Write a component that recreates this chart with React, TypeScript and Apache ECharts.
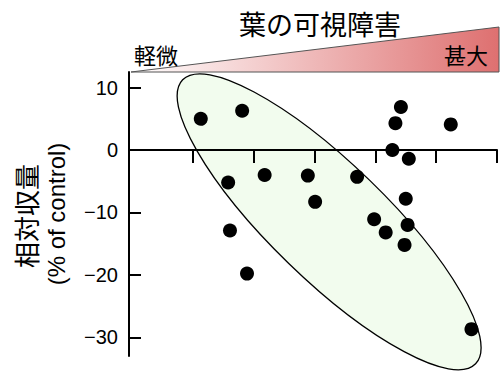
import React, { useEffect, useRef } from "react";
import * as echarts from "echarts";

// Leaf visible damage (x, arbitrary scale) vs relative yield (% of control)
const damageX = [1.13, 1.81, 1.58, 1.61, 1.89, 2.18, 2.89, 3.01, 3.70, 3.98, 4.17, 4.48, 4.50, 4.53, 4.28, 4.55, 4.33, 4.42, 5.24, 5.58];
const yieldY = [5.0, 6.3, -5.2, -12.9, -19.8, -4.0, -4.1, -8.3, -4.3, -11.1, -13.2, -15.2, -7.8, -12.0, 0.0, -1.4, 4.3, 6.9, 4.1, -28.7];
const yTicks = [-30, -20, -10, 0, 10];
const xTicks = [1, 2, 3, 4, 5, 6];
const titleText = "葉の可視障害";
const lowLabel = "軽微";
const highLabel = "甚大";
const yName1 = "相対収量";
const yName2 = "(% of control)";
// ellipse annotation centre in data units
const ellipseCenter = [3.24, -11.5];

const CJK = '"Noto Sans CJK JP", "Noto Sans", sans-serif';
const LAT = '"Liberation Sans", Arial, sans-serif';

export default function App() {
  const ref = useRef<HTMLDivElement>(null);
  useEffect(() => {
    if (!ref.current) return;
    const chart = echarts.init(ref.current, null, { renderer: "svg" });
    const data = damageX.map((x, i) => [x, yieldY[i]]);
    chart.setOption({
      animation: false,
      grid: { left: 129, right: 3, top: 72, bottom: 16 },
      xAxis: {
        type: "value",
        min: -0.05,
        max: 6,
        axisLine: { show: true, onZero: true, lineStyle: { color: "#000", width: 2 } },
        axisTick: { show: true, inside: false, length: 13, customValues: xTicks, lineStyle: { color: "#000", width: 2 } },
        axisLabel: { show: false },
        splitLine: { show: false },
      },
      yAxis: {
        type: "value",
        min: -33,
        max: 12.5,
        axisLine: { show: true, onZero: false, lineStyle: { color: "#000", width: 2 } },
        axisTick: { show: true, inside: true, length: 12, customValues: yTicks, lineStyle: { color: "#000", width: 2 } },
        axisLabel: {
          show: true,
          customValues: yTicks,
          margin: 11,
          fontSize: 20,
          fontFamily: LAT,
          color: "#000",
          formatter: (v: number) => String(v).replace("-", "\u2212"),
        },
        splitLine: { show: false },
      },
      series: [
        {
          type: "scatter",
          data,
          symbolSize: 14,
          clip: false,
          itemStyle: { color: "#000", opacity: 1 },
          z: 5,
        },
      ],
    });
    const c = chart.convertToPixel({ gridIndex: 0 }, ellipseCenter) as number[];
    chart.setOption({
      graphic: [
        {
          type: "ellipse",
          x: c[0],
          y: c[1],
          rotation: -0.77,
          shape: { cx: 0, cy: 0, rx: 204, ry: 58 },
          style: { fill: "#f2fcee", stroke: "#000", lineWidth: 1.3 },
          z: -10,
          silent: true,
        },
        {
          type: "polygon",
          shape: { points: [[131, 72], [499, 27], [499, 72]] },
          style: {
            fill: new echarts.graphic.LinearGradient(0, 0, 1, 0, [
              { offset: 0, color: "#ffffff" },
              { offset: 1, color: "#de7070" },
            ]),
            stroke: "#555",
            lineWidth: 1,
          },
          z: 1,
        },
        {
          type: "text",
          x: 320,
          y: 23,
          style: { text: titleText, font: `27px ${CJK}`, fill: "#000", align: "center", verticalAlign: "middle" },
        },
        {
          type: "text",
          x: 134,
          y: 54,
          style: { text: lowLabel, font: `22px ${CJK}`, fill: "#000", align: "left", verticalAlign: "middle" },
          z: 3,
        },
        {
          type: "text",
          x: 488,
          y: 54,
          style: { text: highLabel, font: `22px ${CJK}`, fill: "#000", align: "right", verticalAlign: "middle" },
          z: 3,
        },
        {
          type: "text",
          x: 25,
          y: 216,
          rotation: Math.PI / 2,
          style: { text: yName1, font: `26px ${CJK}`, fill: "#000", align: "center", verticalAlign: "middle" },
        },
        {
          type: "text",
          x: 56,
          y: 214,
          rotation: Math.PI / 2,
          style: { text: yName2, font: `24px ${LAT}`, fill: "#000", align: "center", verticalAlign: "middle" },
        },
      ],
    });
    return () => chart.dispose();
  }, []);
  return (
    <div
      ref={ref}
      style={{ position: "absolute", left: 0, top: 0, width: 500, height: 372, background: "#fff" }}
    />
  );
}
